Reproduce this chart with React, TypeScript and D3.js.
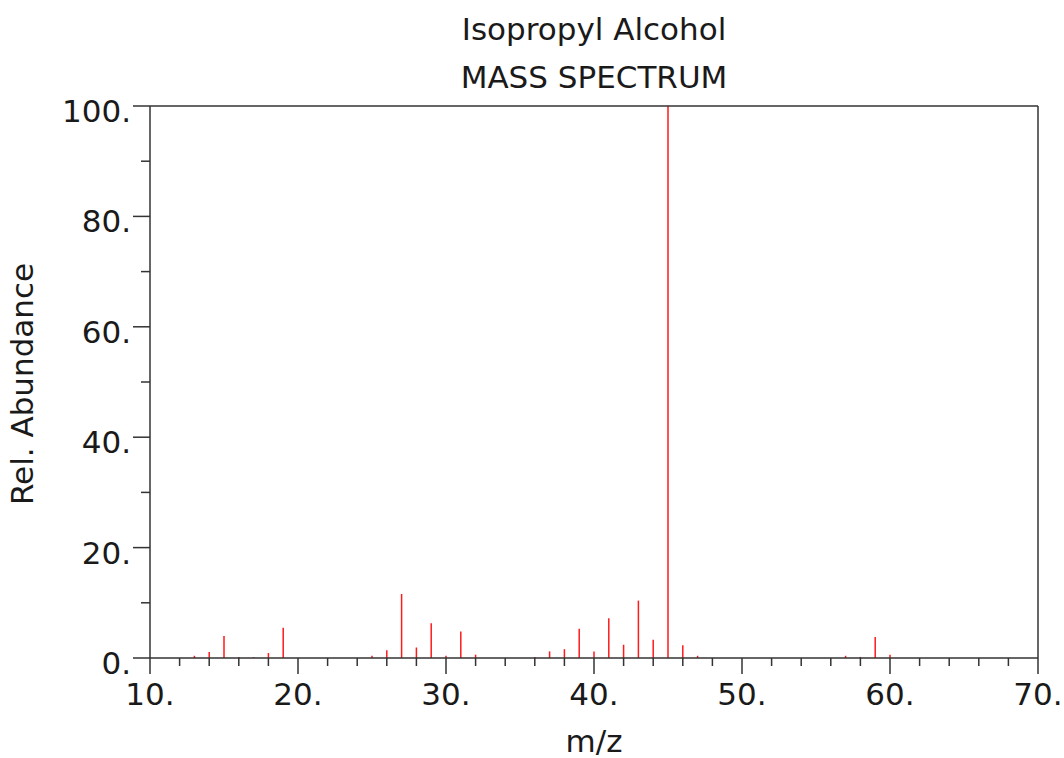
import React, { useEffect, useRef } from "react";
import * as d3 from "d3";

// peak positions (m/z) and relative abundance
const mzValues = [13, 14, 15, 16, 17, 18, 19, 25, 26, 27, 28, 29, 30, 31, 32, 36, 37, 38, 39, 40, 41, 42, 43, 44, 45, 46, 47, 57, 58, 59, 60];
const abundance = [0.4, 1.1, 4.0, 0.2, 0.15, 0.9, 5.5, 0.4, 1.4, 11.6, 1.9, 6.3, 0.4, 4.8, 0.6, 0.2, 1.2, 1.6, 5.3, 1.2, 7.2, 2.4, 10.4, 3.3, 100, 2.3, 0.4, 0.4, 0.2, 3.8, 0.6];

const xTickLabels = [10, 20, 30, 40, 50, 60, 70];
const yTickLabels = [0, 20, 40, 60, 80, 100];

const title = "Isopropyl Alcohol";
const subtitle = "MASS SPECTRUM";

const W = 1064;
const H = 758;
const margin = { left: 150, right: 26, top: 106, bottom: 100 };
const font = "DejaVu Sans, Verdana, sans-serif";
const axisColor = "#333";

const App = () => {
  const ref = useRef<SVGGElement>(null);

  useEffect(() => {
    const g = d3.select(ref.current);
    g.selectAll("*").remove();

    const x = d3.scaleLinear().domain([10, 70]).range([margin.left, W - margin.right]);
    const y = d3.scaleLinear().domain([0, 100]).range([H - margin.bottom, margin.top]);
    const y0 = y(0);

    // peaks
    g.selectAll("line.peak")
      .data(mzValues.map((m, i) => ({ m, v: abundance[i] })))
      .enter()
      .append("line")
      .attr("class", "peak")
      .attr("x1", d => x(d.m))
      .attr("x2", d => x(d.m))
      .attr("y1", y0)
      .attr("y2", d => y(d.v))
      .attr("stroke", "#ff1a1a")
      .attr("stroke-width", 1.5);

    // frame: left, bottom, top, right
    const frame = g.append("g").attr("stroke", axisColor).attr("stroke-width", 1.5);
    frame.append("line").attr("x1", x(10)).attr("x2", x(10)).attr("y1", y(100)).attr("y2", y0);
    frame.append("line").attr("x1", x(10)).attr("x2", x(70)).attr("y1", y0).attr("y2", y0);
    frame.append("line").attr("x1", x(10)).attr("x2", x(70)).attr("y1", y(100)).attr("y2", y(100));
    frame.append("line").attr("x1", x(70)).attr("x2", x(70)).attr("y1", y(100)).attr("y2", y0);

    // x ticks: minor every 2, major every 10
    const xMinor = d3.range(10, 70.01, 2);
    frame.selectAll("line.xt")
      .data(xMinor)
      .enter()
      .append("line")
      .attr("class", "xt")
      .attr("x1", d => x(d))
      .attr("x2", d => x(d))
      .attr("y1", y0)
      .attr("y2", d => y0 + (d % 10 === 0 ? 16 : 8));

    // y ticks: minor every 10, major every 20
    const yMinor = d3.range(0, 100.01, 10);
    frame.selectAll("line.yt")
      .data(yMinor)
      .enter()
      .append("line")
      .attr("class", "yt")
      .attr("y1", d => y(d))
      .attr("y2", d => y(d))
      .attr("x1", x(10))
      .attr("x2", d => x(10) - (d % 20 === 0 ? 17 : 9));

    const labels = g.append("g").attr("font-family", font).attr("font-size", 31).attr("fill", "#1a1a1a");

    labels.selectAll("text.xl")
      .data(xTickLabels)
      .enter()
      .append("text")
      .attr("class", "xl")
      .attr("x", d => x(d))
      .attr("y", y0 + 47)
      .attr("text-anchor", "middle")
      .text(d => d + ".");

    labels.selectAll("text.yl")
      .data(yTickLabels)
      .enter()
      .append("text")
      .attr("class", "yl")
      .attr("x", x(10) - 19)
      .attr("y", d => y(d) + 16)
      .attr("text-anchor", "end")
      .text(d => d + ".");

    const cx = (x(10) + x(70)) / 2;
    labels.append("text").attr("x", cx).attr("y", 40).attr("text-anchor", "middle").text(title);
    labels.append("text").attr("x", cx).attr("y", 88).attr("text-anchor", "middle").text(subtitle);
    labels.append("text").attr("x", cx).attr("y", 752).attr("text-anchor", "middle").text("m/z");
    labels.append("text")
      .attr("transform", `translate(33 ${(y(0) + y(100)) / 2 + 2}) rotate(-90)`)
      .attr("text-anchor", "middle")
      .text("Rel. Abundance");
  }, []);

  return (
    <svg width={W} height={H} style={{ position: "absolute", left: 0, top: 0, background: "#fff" }}>
      <g ref={ref} />
    </svg>
  );
};

export default App;
